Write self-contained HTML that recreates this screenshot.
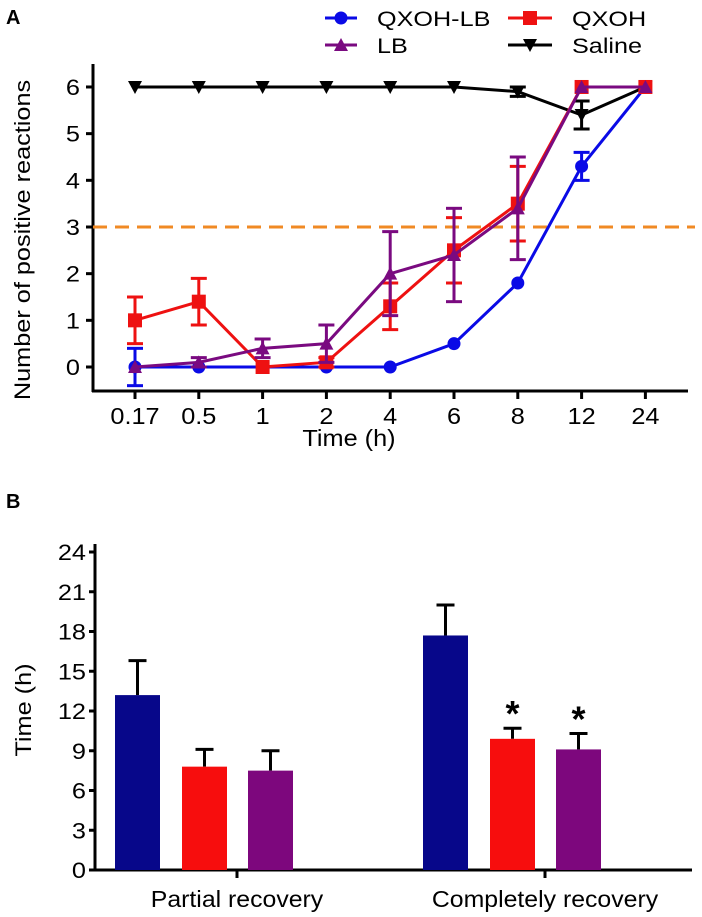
<!DOCTYPE html>
<html><head><meta charset="utf-8"><style>
body{margin:0;background:#fff}
svg{display:block;font-family:"Liberation Sans",Arial,sans-serif}
</style></head><body>
<svg id="c" width="702" height="917" viewBox="0 0 702 917">
<text x="6" y="24" font-size="20" font-weight="bold">A</text>
<text x="6" y="508" font-size="20" font-weight="bold">B</text>
<g id="gA"></g>
<g id="gB"></g>
</svg>
<script>
const timeLabels=["0.17","0.5","1","2","4","6","8","12","24"];
const qxohlbVals=[0,0,0,0,0,0.5,1.8,4.3,6];
const qxohlbErr=[0.4,0,0,0,0,0,0,0.3,0];
const qxohVals=[1,1.4,0,0.1,1.3,2.5,3.5,6,6];
const qxohErr=[0.5,0.5,0,0.1,0.5,0.7,0.8,0,0];
const lbVals=[0,0.1,0.4,0.5,2,2.4,3.4,6,6];
const lbErr=[0,0.1,0.2,0.4,0.9,1.0,1.1,0,0];
const salineVals=[6,6,6,6,6,6,5.9,5.4,6];
const salineErr=[0,0,0,0,0,0,0.1,0.3,0];
const yTicksA=[0,1,2,3,4,5,6];
const threshold=3;
const groups=["Partial recovery","Completely recovery"];
const barBlue=[13.2,17.7];
const barBlueErr=[2.6,2.3];
const barRed=[7.8,9.9];
const barRedErr=[1.3,0.8];
const barPurple=[7.5,9.1];
const barPurpleErr=[1.5,1.2];
const yTicksB=[0,3,6,9,12,15,18,21,24];

const NS="http://www.w3.org/2000/svg";
function mk(p,t,a,txt){const e=document.createElementNS(NS,t);for(const k in a)e.setAttribute(k,a[k]);if(txt!==undefined)e.textContent=txt;p.appendChild(e);return e;}
function tx(p,x,y,size,anchor,str,rot,sx){
 sx=sx||1.15;
 const tr=rot?`translate(${x},${y}) rotate(-90) scale(${sx},1)`:`translate(${x},${y}) scale(${sx},1)`;
 return mk(p,'text',{x:0,y:0,'font-size':size,'text-anchor':anchor,transform:tr},str);
}
const gA=document.getElementById('gA'),gB=document.getElementById('gB');
const xA=i=>135+i*63.8;
const yA=v=>367-v*46.67;
let e;
e=mk(gA,'line',{x1:93,y1:64,x2:93,y2:392,stroke:'#000','stroke-width':3});

e=mk(gA,'line',{x1:92,y1:391,x2:688,y2:391,stroke:'#000','stroke-width':3});

yTicksA.forEach(v=>{mk(gA,'line',{x1:86,y1:yA(v),x2:93,y2:yA(v),stroke:'#000','stroke-width':3});
e=tx(gA,80,yA(v)+8,22,'end',v);
});
timeLabels.forEach((l,i)=>{mk(gA,'line',{x1:xA(i),y1:391,x2:xA(i),y2:399,stroke:'#000','stroke-width':3});
e=tx(gA,xA(i),424,23,'middle',l,false,1.1);
});
e=tx(gA,349,446,23,'middle','Time (h)',false,1.1);

e=tx(gA,30,240,22,'middle','Number of positive reactions',true,1.15);

e=mk(gA,'line',{x1:93,y1:yA(threshold),x2:695,y2:yA(threshold),stroke:'#f08a24','stroke-width':3,'stroke-dasharray':'14,8'});

function marker(g,shape,x,y,c){
 if(shape==='circle')return mk(g,'circle',{cx:x,cy:y,r:6.5,fill:c});
 if(shape==='square')return mk(g,'rect',{x:x-7,y:y-7,width:14,height:14,fill:c});
 if(shape==='tri')return mk(g,'polygon',{points:`${x-7},${y+6} ${x+7},${y+6} ${x},${y-7}`,fill:c});
 return mk(g,'polygon',{points:`${x-7},${y-6} ${x+7},${y-6} ${x},${y+7}`,fill:c});
}
function series(name,vals,err,c,shape){
 const g=mk(gA,'g',{});
 
 vals.forEach((v,i)=>{if(err[i]>0){const x=xA(i);
  mk(g,'line',{x1:x,y1:yA(v-err[i]),x2:x,y2:yA(v+err[i]),stroke:c,'stroke-width':3});
  mk(g,'line',{x1:x-8,y1:yA(v-err[i]),x2:x+8,y2:yA(v-err[i]),stroke:c,'stroke-width':3});
  mk(g,'line',{x1:x-8,y1:yA(v+err[i]),x2:x+8,y2:yA(v+err[i]),stroke:c,'stroke-width':3});}});
 mk(g,'polyline',{points:vals.map((v,i)=>xA(i)+','+yA(v)).join(' '),fill:'none',stroke:c,'stroke-width':3});
 vals.forEach((v,i)=>{const m=marker(g,shape,xA(i),yA(v),c);
  });
}
series('saline',salineVals,salineErr,'#000','inv');
series('qxoh-lb',qxohlbVals,qxohlbErr,'#0a0ae6','circle');
series('qxoh',qxohVals,qxohErr,'#ee1111','square');
series('lb',lbVals,lbErr,'#7a0a80','tri');
function leg(x1,x2,y,c,shape,label,name,tx0){const g=mk(gA,'g',{});
 
 mk(g,'line',{x1:x1,y1:y,x2:x2,y2:y,stroke:c,'stroke-width':3});marker(g,shape,(x1+x2)/2,y,c);
 tx(g,tx0,y+8,21,'start',label,false,1.2);}
leg(325,357,18,'#0a0ae6','circle','QXOH-LB','qxoh-lb',377);
leg(508,552,18,'#ee1111','square','QXOH','qxoh',572);
leg(325,357,45,'#7a0a80','tri','LB','lb',377);
leg(508,552,45,'#000','inv','Saline','saline',572);
// Panel B
const yB=v=>870-v*13.25;
const groupX=[237,545];
const offs=[-122,-55,11];
const bw=45;
e=mk(gB,'line',{x1:95,y1:544,x2:95,y2:871,stroke:'#000','stroke-width':3});

e=mk(gB,'line',{x1:94,y1:870,x2:692,y2:870,stroke:'#000','stroke-width':3});

yTicksB.forEach(v=>{mk(gB,'line',{x1:89,y1:yB(v),x2:95,y2:yB(v),stroke:'#000','stroke-width':3});
e=tx(gB,86,yB(v)+8,22,'end',v);
});
e=tx(gB,31,710,22,'middle','Time  (h)',true);

const sets=[[barBlue,barBlueErr,'#07078a','qxoh-lb'],[barRed,barRedErr,'#f70d0d','qxoh'],[barPurple,barPurpleErr,'#7d077d','lb']];
groups.forEach((gname,gi)=>{
 mk(gB,'line',{x1:groupX[gi],y1:870,x2:groupX[gi],y2:878,stroke:'#000','stroke-width':3});
 e=tx(gB,groupX[gi],907,23,'middle',gname,false,1.08);
 
 sets.forEach((s,si)=>{const v=s[0][gi],er=s[1][gi],x=groupX[gi]+offs[si],cx=x+bw/2;
  mk(gB,'line',{x1:cx,y1:yB(v),x2:cx,y2:yB(v+er),stroke:'#000','stroke-width':3});
  mk(gB,'line',{x1:cx-9,y1:yB(v+er),x2:cx+9,y2:yB(v+er),stroke:'#000','stroke-width':3});
  e=mk(gB,'rect',{x:x,y:yB(v),width:bw,height:870-yB(v),fill:s[2]});
  
  if(gi===1&&si>0){e=mk(gB,'text',{x:cx,y:yB(v+er)-2,'font-size':36,'text-anchor':'middle','font-weight':'bold'},'*');
   }
 });
});
</script>
</body></html>
